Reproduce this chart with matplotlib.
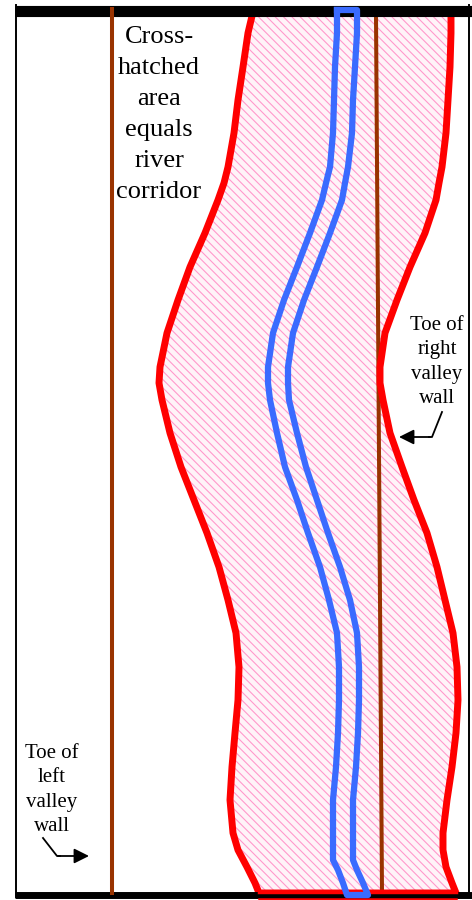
#!/usr/bin/env python3
"""River corridor sketch: valley walls, corridor boundary and channel."""

import matplotlib

matplotlib.use("Agg")
import matplotlib.pyplot as plt
import numpy as np

# image-pixel coordinates (y grows downward)
CORRIDOR_Y = [16, 33, 67, 100, 133, 167, 183, 200, 233, 267, 300, 333, 367, 383, 400, 433,
              467, 500, 533, 567, 600, 633, 667, 700, 733, 767, 800, 833, 850, 867, 883, 893]
CORRIDOR_LEFT = [252, 248, 243, 238, 234, 228, 224, 218, 205, 190, 178, 167, 160, 159, 162, 170,
                 181, 194, 207, 219, 228, 236, 239, 238, 235, 232, 230, 233, 238, 247, 255, 259]
CORRIDOR_RIGHT = [451, 451, 450, 448, 446, 442, 439, 436, 425, 410, 397, 385, 380, 380, 383, 390,
                  402, 414, 427, 437, 445, 453, 457, 458, 456, 452, 447, 443, 443, 446, 452, 456]

CHANNEL_Y = [10, 33, 67, 100, 133, 167, 183, 200, 233, 267, 300, 333, 367, 383, 400, 433,
             467, 500, 533, 567, 600, 633, 667, 700, 733, 767, 800, 833, 860, 870, 883, 895]
CHANNEL_LEFT = [337, 337, 335, 334, 333, 330, 326, 322, 310, 297, 284, 273, 268, 268, 270, 277,
                285, 297, 308, 320, 329, 337, 339, 339, 338, 336, 333, 333, 333, 338, 343, 347]
CHANNEL_RIGHT = [357, 357, 355, 353, 352, 348, 345, 342, 330, 317, 304, 293, 288, 288, 289, 297,
                 306, 317, 328, 340, 350, 357, 359, 359, 358, 356, 353, 353, 353, 357, 363, 368]

LEFT_WALL = ([112, 112], [9, 893])
RIGHT_WALL = ([376, 382], [16, 893])

LABEL_CORRIDOR = ["Cross-", "hatched", "area", "equals", "river", "corridor"]
LABEL_LEFT = ["Toe of", "left", "valley", "wall"]
LABEL_RIGHT = ["Toe of", "right", "valley", "wall"]

RED = "#ff0000"
BLUE = "#3a6bff"
BROWN = "#993300"
PINK = "#ff99cc"

plt.rcParams["font.family"] = ["Liberation Serif", "DejaVu Serif"]
plt.rcParams["hatch.linewidth"] = 0.8

fig = plt.figure(figsize=(4.72, 9.0), dpi=100)
ax = fig.add_axes([0, 0, 1, 1])
ax.set_xlim(0, 472)
ax.set_ylim(900, 0)
ax.axis("off")

# hatched corridor
cy = np.asarray(CORRIDOR_Y, dtype=float)
poly_x = np.concatenate([CORRIDOR_LEFT, CORRIDOR_RIGHT[::-1]])
poly_y = np.concatenate([cy, cy[::-1]])
ax.fill(poly_x, poly_y, facecolor="#fff3f8", edgecolor=PINK, linewidth=0,
        hatch="\\\\\\\\", zorder=1)

# corridor boundary (left side, bottom, right side)
ax.plot(poly_x, poly_y, color=RED, lw=5, solid_joinstyle="round",
        solid_capstyle="butt", zorder=3)

# valley walls
ax.plot(*RIGHT_WALL, color=BROWN, lw=2.9, zorder=2)

# frame
ax.plot([15, 472], [10.5, 10.5], color="black", lw=8, solid_capstyle="butt", zorder=5)
ax.plot([15, 472], [894.5, 894.5], color="black", lw=5, solid_capstyle="butt", zorder=5)
ax.plot([16, 16], [5, 897], color="black", lw=1.4, zorder=5)
ax.plot([469, 469], [5, 897], color="black", lw=1.4, zorder=5)
ax.plot([CORRIDOR_LEFT[-1], CORRIDOR_RIGHT[-1]], [CORRIDOR_Y[-1] - 1] * 2,
        color=RED, lw=2.5, zorder=6)
ax.plot([CORRIDOR_LEFT[-1], CORRIDOR_RIGHT[-1]], [898.5] * 2, color=RED, lw=1.8, zorder=6)

ax.plot(*LEFT_WALL, color=BROWN, lw=2.9, zorder=6)

# channel banks as a closed outline
chy = np.asarray(CHANNEL_Y, dtype=float)
ax.plot(np.concatenate([CHANNEL_LEFT, CHANNEL_RIGHT[::-1], CHANNEL_LEFT[:1]]),
        np.concatenate([chy, chy[::-1], chy[:1]]),
        color=BLUE, lw=4.5, solid_joinstyle="round", zorder=7)

# labels, one line at a time at the baselines
for i, line in enumerate(LABEL_CORRIDOR):
    ax.text(159, 43 + 31 * i, line, fontsize=19, ha="center", va="baseline", zorder=8)
for i, line in enumerate(LABEL_LEFT):
    ax.text(52, 758 + 24.3 * i, line, fontsize=15, ha="center", va="baseline", zorder=8)
for i, line in enumerate(LABEL_RIGHT):
    ax.text(437, 330 + 24.3 * i, line, fontsize=15, ha="center", va="baseline", zorder=8)

# leader arrows
ax.plot([43, 57, 60], [838, 856, 856], color="black", lw=1.3, zorder=8)
ax.annotate("", xy=(89, 856), xytext=(58, 856),
            arrowprops=dict(arrowstyle="-|>,head_length=0.9,head_width=0.45",
                            color="black", lw=1.3, shrinkA=0, shrinkB=0), zorder=8)
ax.plot([442, 432, 429], [412, 437, 437], color="black", lw=1.3, zorder=8)
ax.annotate("", xy=(399, 437), xytext=(430, 437),
            arrowprops=dict(arrowstyle="-|>,head_length=0.9,head_width=0.45",
                            color="black", lw=1.3, shrinkA=0, shrinkB=0), zorder=8)

fig.savefig("out.png", dpi=100, facecolor="white")
